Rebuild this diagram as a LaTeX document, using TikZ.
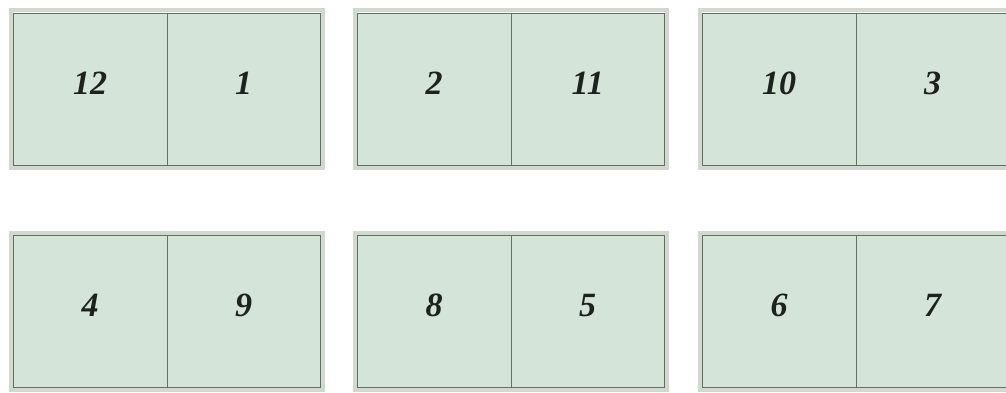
\documentclass[tikz,border=0pt]{standalone}
\usepackage{fontspec}
\setmainfont{Liberation Serif}
\definecolor{cellfill}{HTML}{D4E4D8}
\definecolor{halo}{HTML}{D0D8D0}
\definecolor{edge}{HTML}{62715F}
\definecolor{digit}{HTML}{1E221E}
\begin{document}
\begin{tikzpicture}[x=1pt,y=-1pt,
  cell/.style={draw=edge, line width=0.9pt, fill=cellfill, inner sep=0pt,
    minimum width=153.5pt, minimum height=152pt, anchor=north west,
    text height=24pt, text depth=14pt,
    font=\fontsize{34}{36}\selectfont\bfseries\itshape, text=digit},
  haloframe/.style={draw=halo, line width=4pt}]
\useasboundingbox (0,0) rectangle (1006,393);
\fill[white] (0,0) rectangle (1006,393);
% halos
\draw[haloframe] (10.5,10.5) rectangle (322.5,167.5);
\draw[haloframe] (354.5,10.5) rectangle (666.5,167.5);
\draw[haloframe] (699.5,10.5) rectangle (1011,167.5);
\draw[haloframe] (10.5,232.5) rectangle (322.5,390);
\draw[haloframe] (354.5,232.5) rectangle (666.5,390);
\draw[haloframe] (699.5,232.5) rectangle (1011,390);
% top row
\node[cell] (c12) at (13,13) {12};
\node[cell] (c1)  at (166.5,13) {1};
\node[cell] (c2)  at (357,13) {2};
\node[cell] (c11) at (510.5,13) {11};
\node[cell] (c10) at (702,13) {10};
\node[cell] (c3)  at (855.5,13) {3};
% bottom row
\node[cell] (c4)  at (13,235) {4};
\node[cell] (c9)  at (166.5,235) {9};
\node[cell] (c8)  at (357,235) {8};
\node[cell] (c5)  at (510.5,235) {5};
\node[cell] (c6)  at (702,235) {6};
\node[cell] (c7)  at (855.5,235) {7};
\end{tikzpicture}
\end{document}
